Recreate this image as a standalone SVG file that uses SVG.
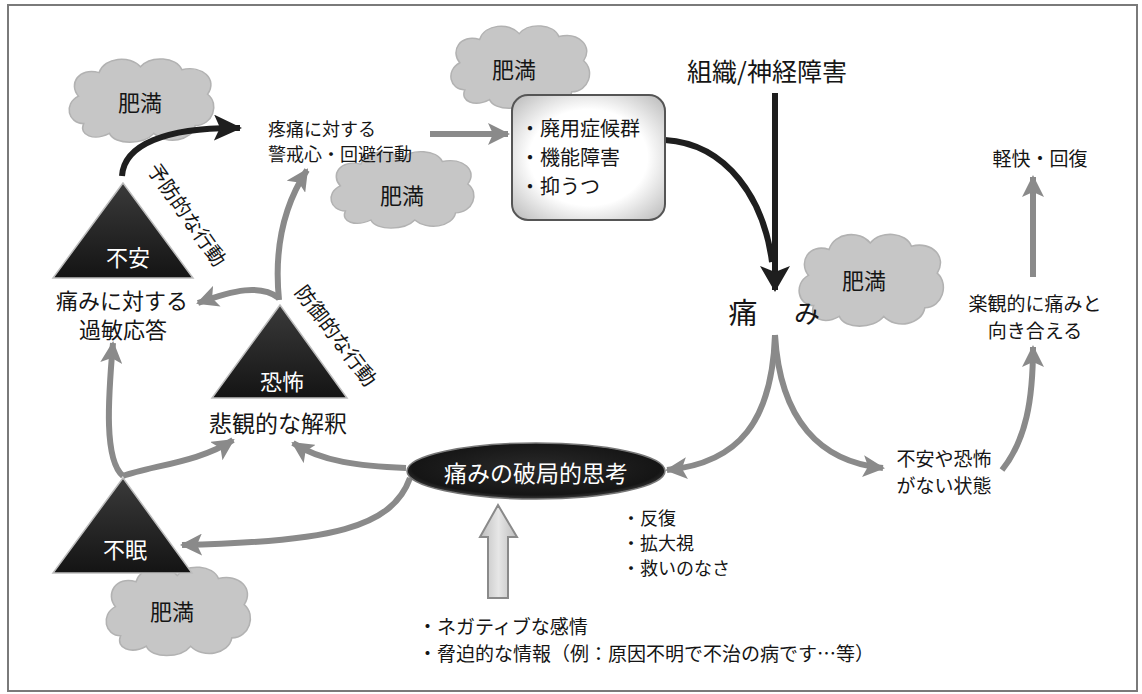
<svg xmlns="http://www.w3.org/2000/svg" xmlns:xlink="http://www.w3.org/1999/xlink" width="1142" height="694" viewBox="0 0 1142 694">
<style>
text{font-family:"Noto Sans CJK JP","Noto Sans CJK SC",sans-serif;fill:#151515;dominant-baseline:central}
.c{text-anchor:middle}
.w{fill:#ffffff}
.cloud{fill:#c6c6c6;stroke:#b2b2b2;stroke-width:1.5}
.tri{fill:url(#triG);stroke:#bdbdbd;stroke-width:1.5}
.g{fill:none;stroke:#8a8a8a;stroke-width:6;stroke-linecap:butt}
.k{fill:none;stroke:#1e1e1e;stroke-width:6;stroke-linecap:butt}
.halo{stroke:#ffffff;stroke-width:4;paint-order:stroke;stroke-linejoin:round}
</style>
<defs>
<linearGradient id="triG" x1="0" y1="0" x2="0" y2="1"><stop offset="0" stop-color="#3a3a3a"/><stop offset="1" stop-color="#141414"/></linearGradient>
<radialGradient id="boxG" cx="0.5" cy="0.5" r="0.7"><stop offset="0.55" stop-color="#ffffff"/><stop offset="1" stop-color="#b8b8b8"/></radialGradient>
<radialGradient id="ellG" cx="0.5" cy="0.45" r="0.6"><stop offset="0" stop-color="#2a2a2a"/><stop offset="0.8" stop-color="#151515"/><stop offset="1" stop-color="#555555"/></radialGradient>
<linearGradient id="hollowG" x1="0" y1="0" x2="1" y2="0"><stop offset="0" stop-color="#bdbdbd"/><stop offset="0.5" stop-color="#e6e6e6"/><stop offset="1" stop-color="#bdbdbd"/></linearGradient>
<path id="cloud" d="M20,70 C5,70 0,50 15,42 C5,30 15,12 35,18 C40,2 65,0 75,12 C85,0 110,2 115,15 C135,10 150,25 140,40 C152,50 145,72 128,72 C125,88 100,92 88,80 C78,92 50,92 45,80 C30,88 15,82 20,70 Z"/>
<marker id="ahG" markerUnits="userSpaceOnUse" markerWidth="22" markerHeight="22" refX="20" refY="11" orient="auto"><path d="M0,0 L22,11 L0,22 L5,11 Z" fill="#8a8a8a"/></marker>
<marker id="ahK" markerUnits="userSpaceOnUse" markerWidth="28" markerHeight="26" refX="26" refY="13" orient="auto"><path d="M0,0 L28,13 L0,26 L6,13 Z" fill="#1e1e1e"/></marker>
<marker id="ahKB" markerUnits="userSpaceOnUse" markerWidth="26" markerHeight="30" refX="24" refY="15" orient="auto"><path d="M0,0 L26,15 L0,30 L6,15 Z" fill="#1e1e1e"/></marker>
</defs>
<rect x="8" y="5" width="1129" height="686" fill="#ffffff" stroke="#7a7a7a" stroke-width="2"/>

<g id="clouds">
<g id="cloud1"><use xlink:href="#cloud" class="cloud" transform="translate(63,55) scale(1.033,0.98)"/><text class="c" x="140" y="101" font-size="22">肥満</text></g>
<g id="cloud2"><use xlink:href="#cloud" class="cloud" transform="translate(445,22) scale(0.99,0.97)"/><text class="c" x="514" y="68" font-size="22">肥満</text></g>
<g id="cloud3"><use xlink:href="#cloud" class="cloud" transform="translate(325,148) scale(1.02,0.9)"/><text class="c" x="402" y="194" font-size="22">肥満</text></g>
<g id="cloud4"><use xlink:href="#cloud" class="cloud" transform="translate(793,230) scale(1.03,1.08)"/><text class="c" x="864" y="279" font-size="22">肥満</text></g>
<g id="cloud5"><use xlink:href="#cloud" class="cloud" transform="translate(100,563) scale(1.03,1.04)"/><text class="c" x="172" y="610" font-size="22">肥満</text></g>
</g>

<g id="connectors">
<path class="k" d="M122,176 C124,145 165,127 240,128" marker-end="url(#ahK)"/>
<path class="g" d="M430,134 L508,134" marker-end="url(#ahG)"/>
<path class="k" d="M665,140 C728,144 764,200 772,262"/>
<path class="k" d="M775,93 L775,290" marker-end="url(#ahKB)"/>
<path class="g" d="M775,335 C772,420 740,463 667,470" marker-end="url(#ahG)"/>
<path class="g" d="M775,335 C780,420 820,462 883,468" marker-end="url(#ahG)"/>
<path class="g" d="M1002,470 C1026,440 1033,400 1033,347" marker-end="url(#ahG)"/>
<path class="g" d="M1033,277 L1033,177" marker-end="url(#ahG)"/>
<path class="g" d="M406,468 C360,466 322,462 293,443" marker-end="url(#ahG)"/>
<path class="g" d="M410,478 C392,528 330,542 182,545" marker-end="url(#ahG)"/>
<path class="g" d="M123,476 C104,460 108,400 113,343" marker-end="url(#ahG)"/>
<path class="g" d="M123,476 C150,466 200,462 233,440" marker-end="url(#ahG)"/>
<path class="g" d="M279,300 C274,250 284,205 307,170" marker-end="url(#ahG)"/>
<path class="g" d="M279,298 C260,284 234,290 198,303" marker-end="url(#ahG)"/>
<path d="M488,598 L488,537 L480,537 L498,505 L517,537 L508,537 L508,598 Z" fill="url(#hollowG)" stroke="#8a8a8a" stroke-width="2"/>
</g>

<g id="anxiety">
<polygon class="tri" points="123,183 53,278 193,278"/>
<text class="c w" x="128" y="256" font-size="22">不安</text>
<text class="c" x="122" y="299" font-size="22">痛みに対する</text>
<text class="c" x="123" y="328" font-size="22">過敏応答</text>
<text class="c halo" x="188" y="214" font-size="20" transform="rotate(55 188 214)">予防的な行動</text>
</g>

<g id="fear">
<polygon class="tri" points="280,305 212,398 347,398"/>
<text class="c w" x="282" y="380" font-size="22">恐怖</text>
<text class="c" x="278" y="422" font-size="23">悲観的な解釈</text>
<text class="c halo" x="337" y="335" font-size="20" transform="rotate(53 337 335)">防御的な行動</text>
</g>

<g id="insomnia">
<polygon class="tri" points="123,478 53,573 192,573"/>
<text class="c w" x="125" y="548" font-size="22">不眠</text>
</g>

<g id="vigilance">
<text x="268" y="128" font-size="18">疼痛に対する</text>
<text x="268" y="153" font-size="18">警戒心・回避行動</text>
</g>

<g id="disuse">
<rect x="512" y="95" width="153" height="125" rx="16" fill="url(#boxG)" stroke="#555555" stroke-width="2"/>
<text x="520" y="127" font-size="20">・廃用症候群</text>
<text x="520" y="156" font-size="20">・機能障害</text>
<text x="520" y="185" font-size="20">・抑うつ</text>
</g>

<g id="injury"><text class="c" x="767" y="70" font-size="25">組織/神経障害</text></g>

<g id="pain">
<text class="c" x="743" y="311" font-size="29">痛</text>
<text class="c" x="807" y="311" font-size="26">み</text>
</g>

<g id="recovery"><text class="c" x="1040" y="157" font-size="19">軽快・回復</text></g>

<g id="optimistic">
<text class="c" x="1035" y="302" font-size="19">楽観的に痛みと</text>
<text class="c" x="1035" y="329" font-size="19">向き合える</text>
</g>

<g id="nofear">
<text class="c" x="944" y="457" font-size="19">不安や恐怖</text>
<text class="c" x="944" y="484" font-size="19">がない状態</text>
</g>

<g id="catastrophizing">
<ellipse cx="536" cy="471" rx="129" ry="28" fill="url(#ellG)" stroke="#777777" stroke-width="1.5"/>
<text class="c w" x="536" y="472" font-size="23">痛みの破局的思考</text>
</g>

<g id="features">
<text x="622" y="517" font-size="18">・反復</text>
<text x="622" y="542" font-size="18">・拡大視</text>
<text x="622" y="567" font-size="18">・救いのなさ</text>
</g>

<g id="inputs">
<text x="418" y="625" font-size="19">・ネガティブな感情</text>
<text x="418" y="652" font-size="19">・脅迫的な情報（例：原因不明で不治の病です…等）</text>
</g>
</svg>
